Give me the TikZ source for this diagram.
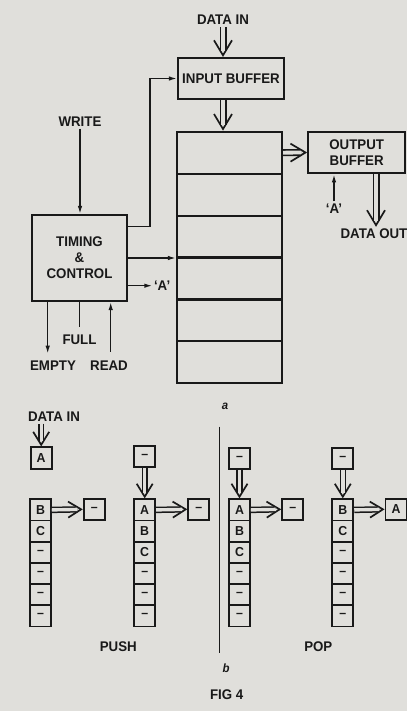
\documentclass[tikz,border=0pt]{standalone}
\usepackage{fontspec}
\setmainfont{Liberation Sans}[FakeStretch=0.95]
\usetikzlibrary{arrows.meta,positioning}
\definecolor{scan}{RGB}{224,223,219}
\definecolor{ink}{RGB}{25,25,25}
\newcommand{\emptyslot}{\textbf{\textendash}}
% double line with an open head: #1 line style, #2 head style, #3 from, #4 to
\newcommand{\dblarrow}[4]{%
  \draw[#2] (#3) -- (#4);
  \draw[#1] (#3) -- (#4);}

\begin{document}
\begin{tikzpicture}[x=1pt,y=-1pt,
  blk/.style={draw=ink, line width=2.1pt, align=center, inner sep=0pt, font=\fontsize{14}{16}\selectfont\bfseries, text=ink},
  cell/.style={draw=ink, line width=1.9pt, minimum width=21pt, minimum height=21.2pt, inner sep=0pt, font=\fontsize{13}{14}\selectfont\bfseries, text=ink},
  lbl/.style={font=\fontsize{14}{16}\selectfont\bfseries, text=ink, inner sep=2pt},
  arr/.style={draw=ink, line width=1.4pt, -{Latex[length=8pt,width=4.5pt]}},
  dline/.style={draw=ink, double=scan, double distance=3.8pt, line width=1.6pt, shorten >=6pt},
  dhead/.style={draw=scan, line width=1.7pt, -{Straight Barb[length=15pt,width=18pt,color=ink]}},
  sdline/.style={dline, double distance=3.4pt, line width=1.5pt, shorten >=5.5pt},
  sdhead/.style={dhead, -{Straight Barb[length=13pt,width=16pt,color=ink]}},
  wire/.style={draw=ink, line width=1.4pt}]

\fill[scan] (0,0) rectangle (407,711);
\useasboundingbox (0,0) rectangle (407,711);

% (a) FIFO store
\node[blk, minimum width=106pt, minimum height=41pt] (inbuf) at (231,78.5) {INPUT BUFFER};
\node[lbl] (datain) at (223,20) {DATA IN};
\foreach \i in {1,...,6}
  \node[blk, minimum width=105pt, minimum height=41.9pt] (st\i) at (229.5,{131.7+41.94*(\i-0.5)}) {};
\node[blk, minimum width=97pt, minimum height=41.6pt] (outbuf) at (356.7,152.5) {OUTPUT\\BUFFER};
\node[blk, minimum width=95.6pt, minimum height=86pt] (timing) at (79.5,258) {TIMING\\\&\\CONTROL};
\node[lbl] (write) at (80,121.7) {WRITE};
\node[lbl] (empty) at (53,365.7) {EMPTY};
\node[lbl] (full) at (79.5,340) {FULL};
\node[lbl] (read) at (109,365.7) {READ};
\node[lbl] (aout) at (334,208.3) {`A'};
\node[lbl] (dataout) at (374,234) {DATA OUT};

\dblarrow{dline}{dhead}{datain.south}{datain |- inbuf.north}
\dblarrow{dline}{dhead}{datain |- inbuf.south}{datain |- st1.north}
\dblarrow{dline}{dhead}{st1.east}{outbuf.west}
\dblarrow{dline}{dhead}{[xshift=2pt]dataout.north |- outbuf.south}{[xshift=2pt]dataout.north}
\draw[arr] (aout.north) -- (aout.north |- outbuf.south);
\draw[arr] (write.south) -- (write.south |- timing.north);
\draw[arr] ([yshift=31.3pt]timing.east) -| ([xshift=-27pt]inbuf.west) -- (inbuf.west);
\draw[arr] (timing.east) -- (timing.east -| st1.west);
\draw[arr] ([yshift=-27.7pt]timing.east) -- ++(24,0) node[lbl, right, inner sep=1pt] (actl) {`A'};
\draw[arr, shorten >=5pt] ([xshift=-31.8pt]timing.south) -- ([xshift=-5.3pt]empty.north);
\draw[wire, shorten >=6pt] (timing.south) -- (full.north);
\draw[arr, shorten <=7pt] ([xshift=1.7pt]read.north) -- ([xshift=31.2pt]timing.south);
\node[lbl, font=\fontsize{12}{14}\selectfont\bfseries\itshape] (capa) at (225,406) {a};

% (b) push and pop
\node[lbl] (din) at (54,416.7) {DATA IN};
\node[cell] (inA) at (41.2,458) {A};
\dblarrow{sdline}{sdhead}{din.south -| inA}{inA.north}
\foreach \t [count=\i] in {B,C,\emptyslot,\emptyslot,\emptyslot,\emptyslot}
  \node[cell] (pa\i) at (40.5,{499.3+21.2*(\i-0.5)}) {\t};
\foreach \t [count=\i] in {A,B,C,\emptyslot,\emptyslot,\emptyslot}
  \node[cell] (pb\i) at (144.7,{499.3+21.2*(\i-0.5)}) {\t};
\foreach \t [count=\i] in {A,B,C,\emptyslot,\emptyslot,\emptyslot}
  \node[cell] (pc\i) at (239.5,{499.3+21.2*(\i-0.5)}) {\t};
\foreach \t [count=\i] in {B,C,\emptyslot,\emptyslot,\emptyslot,\emptyslot}
  \node[cell] (pd\i) at (342.8,{499.3+21.2*(\i-0.5)}) {\t};
\node[cell] (tb) at (144.7,456.7) {\emptyslot};
\node[cell] (tc) at (239.5,458.3) {\emptyslot};
\node[cell] (td) at (342.8,458.3) {\emptyslot};
\node[cell] (oa) at (94.2,509.3) {\emptyslot};
\node[cell] (ob) at (198.8,509.3) {\emptyslot};
\node[cell] (oc) at (292.7,509.3) {\emptyslot};
\node[cell] (od) at (396,509.3) {A};
\foreach \s/\o in {pa/oa,pb/ob,pc/oc,pd/od}
  {\dblarrow{sdline}{sdhead}{\s1.east}{\o.west}}
\foreach \t/\s in {tb/pb,tc/pc,td/pd}
  {\dblarrow{sdline}{sdhead}{\t.south}{\s1.north}}
\draw[wire] (219.3,426.7) -- (219.3,653.3);
\node[lbl] (push) at (118.3,646.7) {PUSH};
\node[lbl] (pop) at (318.3,646.7) {POP};
\node[lbl, font=\fontsize{12}{14}\selectfont\bfseries\itshape] (capb) at (226,668.3) {b};
\node[lbl] (fig) at (226.7,695) {FIG 4};
\end{tikzpicture}
\end{document}
